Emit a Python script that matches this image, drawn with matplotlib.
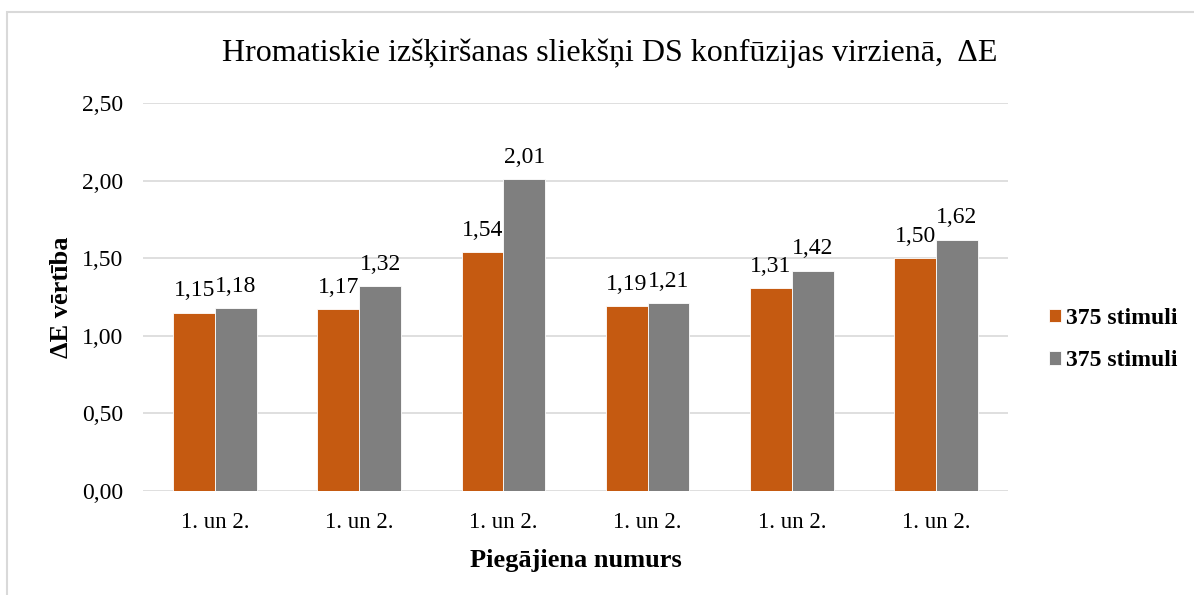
import numpy as np
import matplotlib
matplotlib.use('Agg')
from matplotlib import pyplot as plt
from matplotlib.patches import Rectangle

plt.rcParams['font.family'] = ['Liberation Serif', 'DejaVu Serif']

categories = ['1. un 2.'] * 6
series_names = ['375 stimuli', '375 stimuli']
orange_vals = [1.15, 1.17, 1.54, 1.19, 1.31, 1.50]
gray_vals = [1.18, 1.32, 2.01, 1.21, 1.42, 1.62]
yticks = [0.0, 0.5, 1.0, 1.5, 2.0, 2.5]

fig = plt.figure(figsize=(11.94, 5.95), dpi=100)
ax = fig.add_axes([0.1198, 0.1748, 0.7245, 0.6521])

# outer chart frame (partly cut off on the right and bottom)
fig.patches.append(Rectangle((0.006, -0.01), 1.1, 0.99, transform=fig.transFigure,
                             fill=False, edgecolor='#D9D9D9', linewidth=1.5))

x = np.arange(len(categories))
w = 0.29
b1 = ax.bar(x - w / 2, orange_vals, w, color='#C55A11', edgecolor='white', linewidth=0.6,
            label=series_names[0], zorder=3)
b2 = ax.bar(x + w / 2, gray_vals, w, color='#7F7F7F', edgecolor='white', linewidth=0.6,
            label=series_names[1], zorder=3)

fmt = lambda v: f'{v:.2f}'.replace('.', ',')
ax.bar_label(b1, labels=[fmt(v) for v in orange_vals], padding=8, fontsize=17)
ax.bar_label(b2, labels=[fmt(v) for v in gray_vals], padding=8, fontsize=17)

ax.set_xlim(-0.5, len(categories) - 0.5)
ax.set_ylim(0, 2.5)
ax.set_yticks(yticks)
ax.set_yticklabels([fmt(v) for v in yticks], fontsize=17)
ax.set_xticks(x)
ax.set_xticklabels(categories, fontsize=16.5)
ax.tick_params(length=0)
ax.tick_params(axis='x', pad=15)
ax.tick_params(axis='y', pad=14)
ax.grid(axis='y', color='#D9D9D9', linewidth=1.2, zorder=0)
for s in ax.spines.values():
    s.set_visible(False)

fig.text(0.511, 0.911, 'Hromatiskie izšķiršanas sliekšņi DS konfūzijas virzienā,  ΔE',
         fontsize=23, ha='center', va='center')
ax.set_ylabel('ΔE vērtība', fontsize=19, fontweight='bold', labelpad=7)
ax.set_xlabel('Piegājiena numurs', fontsize=19, fontweight='bold', labelpad=12)

ax.legend(loc='center left', bbox_to_anchor=(1.047, 0.39), frameon=False,
          borderaxespad=0, borderpad=0,
          prop={'size': 17, 'weight': 'bold'}, handlelength=0.5, handleheight=0.5,
          handletextpad=0.25, labelspacing=0.9)

fig.savefig('out.png', dpi=100)
